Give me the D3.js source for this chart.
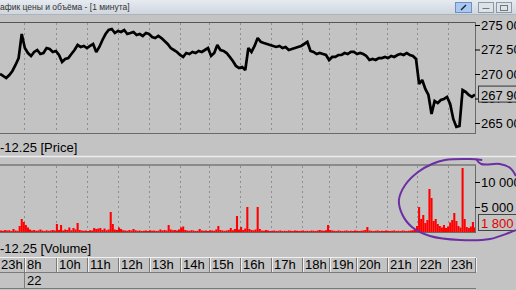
<!DOCTYPE html>
<html>
<head>
<meta charset="utf-8">
<script src="https://cdn.jsdelivr.net/npm/d3@7"></script>
<style>
  body { margin: 0; background: #c3c3c3; overflow: hidden; }
  svg { display: block; font-family: Arial, "Liberation Sans", sans-serif; }
</style>
</head>
<body>
<script>
// hours on the time axis and how many minute bars each one holds
var hourLabels = ["23h", "8h", "10h", "11h", "12h", "13h", "14h", "15h", "16h", "17h", "18h", "19h", "20h", "21h", "22h", "23h"];
var hourMinutes = [46, 62, 60, 60, 60, 60, 56, 60, 60, 60, 52, 52, 60, 58, 60, 52];
var dayLabel = "22";

// price, one value every 6 minutes
var priceStep = 6;
var priceValues = [
  270000, 269800, 269590, 269900, 270310, 270920, 271630, 274080, 272650, 272140,
  271840, 272250, 272450, 272040, 272140, 272650, 272550, 272250, 272350, 271940,
  271230, 271530, 271630, 272040, 272450, 272960, 272760, 272860, 272650, 272860,
  273060, 272250, 272760, 273470, 274080, 274490, 274590, 274180, 274390, 274290,
  274490, 274080, 274180, 274290, 273980, 274080, 273880, 274180, 274080, 273780,
  273670, 273880, 273670, 273370, 273060, 272650, 272450, 272250, 271940, 271740,
  272140, 272040, 272250, 272140, 272350, 272250, 272450, 272650, 271840, 272140,
  272960, 272450, 272350, 272140, 271740, 271330, 270820, 270610, 270720, 270410,
  272650, 272250, 272860, 273670, 273270, 273160, 273060, 272960, 272860, 272760,
  272860, 272650, 272760, 272450, 272550, 272650, 272760, 272860, 273060, 273270,
  272350, 272250, 272040, 272140, 272040, 271940, 271430, 271740, 271740, 271940,
  271940, 272140, 272040, 272250, 272250, 272040, 272140, 272040, 271840, 271430,
  271530, 271430, 271630, 271630, 271740, 271630, 271840, 271740, 271940, 272040,
  271940, 272140, 271940, 271840, 271530, 268980, 269390, 268470, 267860, 265920,
  267250, 267040, 267350, 267450, 267660, 266940, 265410, 264600, 264700, 268370,
  268170, 267860, 267660, 267900
];

// volume, one bar every 4 minutes
var volumeStep = 4;
var volumeValues = [
  300, 250, 400, 300, 350, 200, 600, 300, 250, 1200,
  2600, 2000, 1400, 900, 500, 300, 400, 250, 300, 500,
  300, 200, 350, 250, 300, 400, 300, 1600, 400, 1400,
  300, 500, 400, 900, 350, 800, 500, 1800, 400, 300,
  250, 300, 200, 350, 300, 800, 600, 700, 800, 400,
  700, 350, 500, 4000, 1600, 500, 400, 900, 600, 350,
  300, 250, 400, 300, 600, 350, 250, 300, 200, 250,
  300, 200, 350, 250, 300, 200, 250, 500, 300, 400,
  300, 1400, 500, 350, 400, 300, 500, 900, 1100, 400,
  300, 250, 350, 300, 200, 250, 600, 300, 250, 300,
  200, 350, 300, 250, 500, 1200, 400, 300, 250, 300,
  400, 800, 350, 600, 3200, 500, 1000, 400, 700, 5000,
  600, 400, 350, 500, 5000, 600, 300, 250, 400, 300,
  200, 250, 300, 200, 250, 300, 200, 250, 200, 300,
  250, 200, 300, 250, 200, 250, 300, 200, 250, 200,
  300, 250, 200, 300, 400, 300, 250, 350, 1400, 400,
  300, 250, 200, 300, 250, 200, 250, 300, 200, 250,
  200, 300, 250, 200, 250, 300, 400, 1000, 300, 250,
  200, 250, 300, 200, 250, 200, 300, 250, 200, 250,
  300, 200, 250, 200, 300, 250, 200, 250, 300, 350,
  600, 1200, 5000, 2600, 3400, 1800, 2400, 8600, 6800, 2200,
  2600, 1600, 1200, 900, 1400, 800, 1100, 1900, 2400, 3800,
  2200, 1200, 900, 12800, 2600, 1000, 800, 1100, 2000, 900
];

var priceTicks = [265000, 267500, 270000, 272500, 275000];
var volumeTicks = [5000, 10000];
var lastPrice = 267900;
var lastVolume = 1800;

// hand drawn purple loop, in minutes / volume units
var loopMinutes = [932, 908, 860, 835, 808, 783, 771, 777, 796, 831, 889, 947, 997];
var loopVolumes = [14400, 14600, 14400, 13600, 12000, 9400, 6400, 3600, 1000, -800, -1600, -1400, 400];
var hookMinutes = [920, 930, 966, 986, 997];
var hookVolumes = [14600, 13600, 13600, 12800, 11200];

var W = 516, H = 290;
var plotRight = 475;
var totalMinutes = d3.sum(hourMinutes);

var svg = d3.select("body").append("svg").attr("width", W).attr("height", H);

var fmt = d3.formatLocale({ decimal: ".", thousands: " ", grouping: [3], currency: ["", ""] }).format(",");

var x = d3.scaleLinear().domain([0, totalMinutes]).range([0, plotRight]);
var yPrice = d3.scaleLinear().domain([265000, 275000]).range([123, 25]);
var yVol = d3.scaleLinear().domain([0, 10000]).range([232, 182]);

var bounds = [0];
hourMinutes.forEach(function (m, i) { bounds.push(bounds[i] + m); });

// title bar
var grad = svg.append("defs").append("linearGradient").attr("id", "tb").attr("x1", 0).attr("x2", 0).attr("y1", 0).attr("y2", 1);
grad.append("stop").attr("offset", "0%").attr("stop-color", "#e6ebf1");
grad.append("stop").attr("offset", "100%").attr("stop-color", "#cfd6de");
svg.append("rect").attr("x", 0).attr("y", 0).attr("width", W).attr("height", 14).attr("fill", "url(#tb)");
svg.append("line").attr("x1", 0).attr("x2", W).attr("y1", 14.5).attr("y2", 14.5).attr("stroke", "#aeb4bb");
svg.append("text").attr("x", 0).attr("y", 10).attr("font-size", 8.5).attr("fill", "#333")
    .text("афик цены и объёма - [1 минута]");
svg.append("rect").attr("x", 455.5).attr("y", 2.5).attr("width", 16).attr("height", 10)
    .attr("fill", "#a9c8f2").attr("stroke", "#6f8fc0");
svg.append("line").attr("x1", 461).attr("y1", 10).attr("x2", 466).attr("y2", 5).attr("stroke", "#223").attr("stroke-width", 1.5);
[478.5, 496.5].forEach(function (bx, i) {
    svg.append("rect").attr("x", bx).attr("y", 2.5).attr("width", 15).attr("height", 10)
        .attr("fill", "#dde3ea").attr("stroke", "#8f98a3");
    if (i === 0) {
        svg.append("line").attr("x1", bx + 4).attr("x2", bx + 11).attr("y1", 8.5).attr("y2", 8.5).attr("stroke", "#777");
    } else {
        svg.append("rect").attr("x", bx + 4).attr("y", 5.5).attr("width", 7).attr("height", 5).attr("fill", "none").attr("stroke", "#777");
    }
});

// panels
var defs = svg.select("defs");
defs.append("clipPath").attr("id", "cp").append("rect").attr("x", 0).attr("y", 22).attr("width", plotRight).attr("height", 111);
defs.append("clipPath").attr("id", "cv").append("rect").attr("x", 0).attr("y", 166).attr("width", plotRight).attr("height", 66);

function grid(y0, y1) {
    svg.append("g").selectAll("line").data(bounds.slice(1, -1)).enter().append("line")
        .attr("x1", function (d) { return Math.round(x(d)) + 0.5; })
        .attr("x2", function (d) { return Math.round(x(d)) + 0.5; })
        .attr("y1", y0).attr("y2", y1)
        .attr("stroke", "#8e8e8e").attr("stroke-dasharray", "2,3");
}
grid(23, 133);
grid(166, 232);

// price panel frame
svg.append("line").attr("x1", 0).attr("x2", plotRight + 0.5).attr("y1", 22.5).attr("y2", 22.5).attr("stroke", "#555");
svg.append("line").attr("x1", 0).attr("x2", plotRight + 0.5).attr("y1", 133.5).attr("y2", 133.5).attr("stroke", "#6a6a6a");
svg.append("line").attr("x1", plotRight + 0.5).attr("x2", plotRight + 0.5).attr("y1", 22).attr("y2", 134).attr("stroke", "#6a6a6a");

var priceLine = d3.line()
    .x(function (d, i) { return x(i * priceStep); })
    .y(function (d) { return yPrice(d); });
svg.append("path").datum(priceValues).attr("clip-path", "url(#cp)")
    .attr("d", priceLine).attr("fill", "none").attr("stroke", "#000")
    .attr("stroke-width", 2.7).attr("stroke-linejoin", "miter").attr("stroke-miterlimit", 2);

var pAxis = svg.append("g").attr("transform", "translate(" + plotRight + ",0)")
    .call(d3.axisRight(yPrice).tickValues(priceTicks).tickSize(5).tickPadding(1).tickFormat(fmt));
pAxis.select(".domain").remove();
pAxis.selectAll("text").attr("font-size", 13).attr("font-family", "Arial, 'Liberation Sans'").attr("fill", "#000");
pAxis.selectAll("line").attr("stroke", "#000");

var pBox = svg.append("g");
pBox.append("rect").attr("x", 478.5).attr("y", yPrice(lastPrice) - 8.5).attr("width", 45).attr("height", 16)
    .attr("fill", "#c3c3c3").attr("stroke", "#333");
pBox.append("text").attr("x", 481).attr("y", yPrice(lastPrice) + 5).attr("font-size", 13).text(fmt(lastPrice));

svg.append("text").attr("x", 0).attr("y", 152).attr("font-size", 13).text("-12.25 [Price]");

// separator
svg.append("line").attr("x1", 0).attr("x2", W).attr("y1", 156.5).attr("y2", 156.5).attr("stroke", "#ececec").attr("stroke-width", 1.5);
svg.append("line").attr("x1", 0).attr("x2", plotRight + 1).attr("y1", 165).attr("y2", 165).attr("stroke", "#8a8a8a").attr("stroke-width", 2);

// volume panel
svg.append("line").attr("x1", 0).attr("x2", plotRight + 0.5).attr("y1", 232.5).attr("y2", 232.5).attr("stroke", "#6a6a6a");
svg.append("line").attr("x1", plotRight + 0.5).attr("x2", plotRight + 0.5).attr("y1", 165).attr("y2", 233).attr("stroke", "#6a6a6a");

var barW = x(volumeStep) - x(0);
svg.append("g").attr("clip-path", "url(#cv)").selectAll("rect").data(volumeValues).enter().append("rect")
    .attr("x", function (d, i) { return x(i * volumeStep); })
    .attr("width", barW)
    .attr("y", function (d) { return yVol(d); })
    .attr("height", function (d) { return yVol(0) - yVol(d); })
    .attr("fill", "#ff0000");

var vAxis = svg.append("g").attr("transform", "translate(" + plotRight + ",0)")
    .call(d3.axisRight(yVol).tickValues(volumeTicks).tickSize(5).tickPadding(1).tickFormat(fmt));
vAxis.select(".domain").remove();
vAxis.selectAll("text").attr("font-size", 13).attr("font-family", "Arial, 'Liberation Sans'").attr("fill", "#000");
vAxis.selectAll("line").attr("stroke", "#000");

var vBox = svg.append("g");
vBox.append("rect").attr("x", 478.5).attr("y", yVol(lastVolume) - 8.5).attr("width", 45).attr("height", 16)
    .attr("fill", "#c3c3c3").attr("stroke", "#444");
vBox.append("text").attr("x", 481).attr("y", yVol(lastVolume) + 5).attr("font-size", 13).attr("fill", "#e00000").text(fmt(lastVolume));

svg.append("text").attr("x", 0).attr("y", 253).attr("font-size", 13).text("-12.25 [Volume]");

// time axis
var ta = svg.append("g");
ta.append("line").attr("x1", 0).attr("x2", plotRight + 1).attr("y1", 257.5).attr("y2", 257.5).attr("stroke", "#f0f0f0");
ta.append("line").attr("x1", 0).attr("x2", plotRight + 1).attr("y1", 272.5).attr("y2", 272.5).attr("stroke", "#7a7a7a");
ta.append("line").attr("x1", 0).attr("x2", plotRight + 1).attr("y1", 288.5).attr("y2", 288.5).attr("stroke", "#7a7a7a");
ta.selectAll("line.b").data(bounds.slice(1)).enter().append("line")
    .attr("x1", function (d) { return Math.round(x(d)) + 0.5; })
    .attr("x2", function (d) { return Math.round(x(d)) + 0.5; })
    .attr("y1", 258).attr("y2", 272).attr("stroke", "#7a7a7a");
ta.selectAll("line.h").data(bounds.slice(1)).enter().append("line")
    .attr("x1", function (d) { return Math.round(x(d)) + 1.5; })
    .attr("x2", function (d) { return Math.round(x(d)) + 1.5; })
    .attr("y1", 258).attr("y2", 272).attr("stroke", "#efefef");
ta.selectAll("text").data(hourLabels).enter().append("text")
    .attr("x", function (d, i) { return i === 0 ? 1 : Math.round(x(bounds[i])) + 3; })
    .attr("y", 269).attr("font-size", 13).text(function (d) { return d; });
ta.append("line").attr("x1", Math.round(x(bounds[1])) + 0.5).attr("x2", Math.round(x(bounds[1])) + 0.5)
    .attr("y1", 273).attr("y2", 288).attr("stroke", "#7a7a7a");
ta.append("text").attr("x", Math.round(x(bounds[1])) + 3).attr("y", 285).attr("font-size", 13).text(dayLabel);

// purple annotation
var loopLine = d3.line().curve(d3.curveCatmullRom)
    .x(function (d) { return x(d[0]); })
    .y(function (d) { return yVol(d[1]); });
svg.append("path").datum(d3.zip(loopMinutes, loopVolumes)).attr("d", loopLine)
    .attr("fill", "none").attr("stroke", "#6b2fa3").attr("stroke-width", 2);
svg.append("path").datum(d3.zip(hookMinutes, hookVolumes)).attr("d", loopLine)
    .attr("fill", "none").attr("stroke", "#6b2fa3").attr("stroke-width", 2);
</script>
</body>
</html>
